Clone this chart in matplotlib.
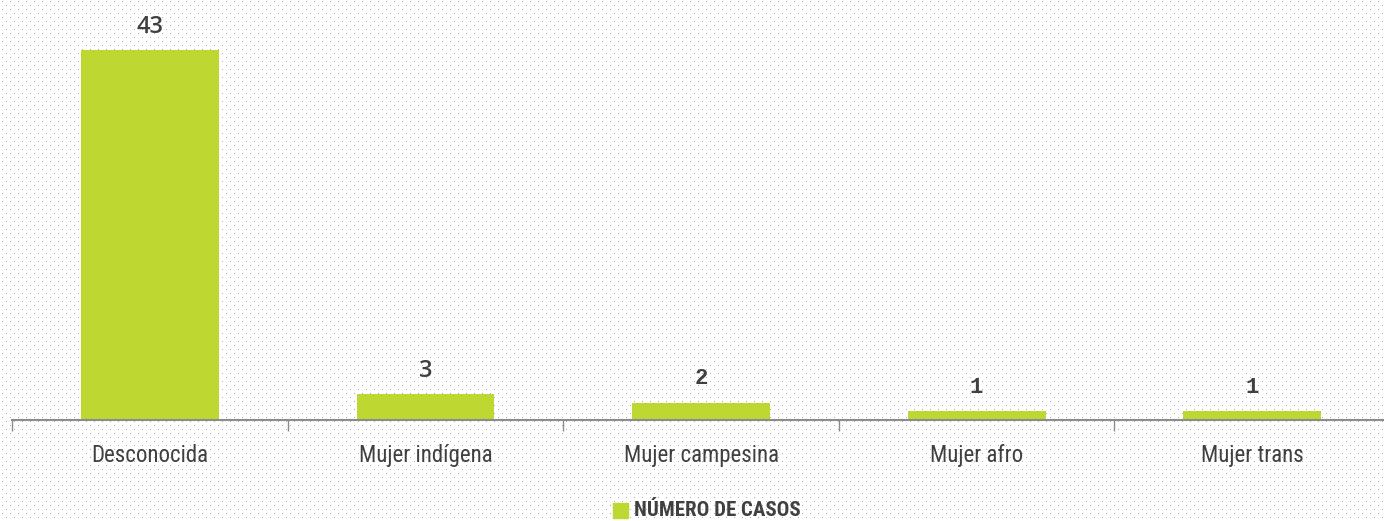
import numpy as np
import matplotlib.pyplot as plt
from matplotlib import font_manager

categorias = ['Desconocida', 'Mujer indígena', 'Mujer campesina', 'Mujer afro', 'Mujer trans']
casos = [43, 3, 2, 1, 1]

verde = '#bed731'
texto = '#404040'

nombres = {f.name for f in font_manager.fontManager.ttflist}
estrecha = [n for n in ['Liberation Sans Narrow', 'DejaVu Sans Condensed', 'Roboto Condensed',
                        'Open Sans Condensed', 'Roboto'] if n in nombres][:1] or ['DejaVu Sans']

W, H = 1384, 521
fig = plt.figure(figsize=(W / 100, H / 100), dpi=100)

# fondo punteado
fondo = np.ones((H, W, 3))
yy, xx = np.mgrid[0:H, 0:W]
puntos = ((xx % 8 == 2) & (yy % 8 == 1)) | ((xx % 8 == 6) & (yy % 8 == 5))
fondo[puntos] = 0.68
fig.figimage(fondo, xo=0, yo=0, zorder=0)

# el eje sigue un poco más allá del borde derecho
ax = fig.add_axes([12 / W, 101 / H, 1378 / W, 387 / H])
ax.set_zorder(2)
ax.set_facecolor('none')

x = np.arange(len(categorias))
ax.bar(x, casos, width=0.5, color=verde, zorder=2)
ax.set_xlim(-0.5, len(categorias) - 0.5)
ax.set_ylim(0, 45)

for s in ['top', 'right', 'left']:
    ax.spines[s].set_visible(False)
ax.spines['bottom'].set_color('#8c8c8c')
ax.spines['bottom'].set_linewidth(1.5)
ax.set_yticks([])

ax.set_xticks(np.arange(-0.5, len(categorias), 1))
ax.set_xticklabels([])
ax.tick_params(axis='x', length=8, width=1, color='#8c8c8c')
for i, c in enumerate(categorias):
    ax.text(i, -4.1, c, ha='center', va='center', fontsize=16.5,
            family=estrecha, color=texto, clip_on=False)

# etiquetas de valores
for i, v in enumerate(casos):
    if v >= 3:
        ax.text(i, v + 1.3, str(v), ha='center', va='bottom', fontsize=17,
                family='Open Sans', fontweight='semibold', color=texto)
    else:
        ax.text(i, v + 1.6, str(v), ha='center', va='bottom', fontsize=16,
                family='Liberation Mono', fontweight='bold', color=texto)

# leyenda
leg = plt.Rectangle((613 / W, 3 / H), 15 / W, 15 / H,
                    transform=fig.transFigure, color=verde, zorder=3)
fig.patches.append(leg)
fig.text(634 / W, 10.5 / H, 'NÚMERO DE CASOS', ha='left', va='center', fontsize=15,
         family=estrecha, fontweight='bold', color=texto, zorder=3)

fig.savefig('out.png', dpi=100)
